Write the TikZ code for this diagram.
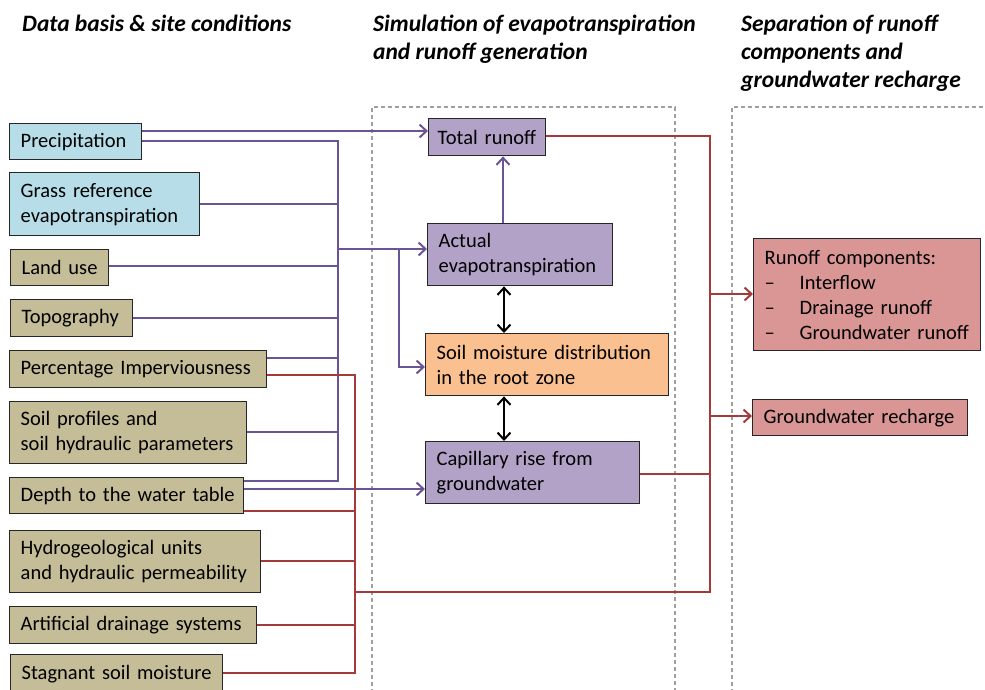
\documentclass[tikz,border=0pt]{standalone}
\usepackage{fontspec}
\setmainfont{Carlito}
\usetikzlibrary{arrows.meta}
\definecolor{cblue}{HTML}{B7DEE8}
\definecolor{ctan}{HTML}{C4BD97}
\definecolor{cpurp}{HTML}{B3A2C7}
\definecolor{corange}{HTML}{FAC090}
\definecolor{cred}{HTML}{D99694}
\definecolor{lpurp}{HTML}{6A5495}
\definecolor{lred}{HTML}{A23B3A}
\definecolor{bord}{HTML}{262626}
\definecolor{dashgray}{HTML}{A0A0A0}
\tikzset{
  bx/.style={draw=bord, line width=1.4pt, anchor=north west, inner xsep=11pt, inner ysep=0pt, align=left,
    execute at begin node={\hyphenpenalty=10000\exhyphenpenalty=10000}},
  ttl/.style={anchor=north west, inner sep=0pt, align=left, font=\fontsize{23.5}{28}\selectfont\bfseries\itshape},
  pl/.style={draw=lpurp, line width=2pt},
  rl/.style={draw=lred, line width=2pt},
  tip/.style={-{Straight Barb[length=7pt,width=13pt]}},
  dtip/.style={{Straight Barb[length=7pt,width=13pt]}-{Straight Barb[length=7pt,width=13pt]}},
  frame/.style={draw=dashgray, line width=1.1pt, dash pattern=on 4pt off 3pt}
}
\begin{document}
\begin{tikzpicture}[x=1pt,y=-1pt,font=\fontsize{20.5}{25}\selectfont]
\useasboundingbox (0,0) rectangle (985,689);
% titles
\node[ttl] (t1) at (22,15) {Data basis \& site conditions};
\node[ttl] (t2) at (373,15) {Simulation of evapotranspiration\\and runoff generation};
\node[ttl] (t3) at (741,15) {Separation of runoff\\components and\\groundwater recharge};
% dashed frames
\draw[frame] (372,700) -- (372,107) -- (675,107) -- (675,700);
\draw[frame] (732,700) -- (732,107) -- (995,107);
% left boxes
\node[bx, fill=cblue, text width=110pt, minimum height=36pt] (prec) at (9,123) {Precipitation};
\node[bx, fill=cblue, text width=168pt, minimum height=63pt] (grass) at (9,172) {Grass reference\\evapotranspiration};
\node[bx, fill=ctan, text width=76pt, minimum height=36pt] (land) at (10,249) {Land use};
\node[bx, fill=ctan, text width=100pt, minimum height=37pt] (topo) at (10,299) {Topography};
\node[bx, fill=ctan, text width=235pt, minimum height=37pt] (perc) at (9,350) {Percentage Imperviousness};
\node[bx, fill=ctan, text width=215pt, minimum height=62pt] (soil) at (9,401) {Soil profiles and\\soil hydraulic parameters};
\node[bx, fill=ctan, text width=212pt, minimum height=36pt] (depth) at (9,477) {\mbox{Depth to the water table}};
\node[bx, fill=ctan, text width=229pt, minimum height=62pt] (hyd) at (9,530) {Hydrogeological units\\and hydraulic permeability};
\node[bx, fill=ctan, text width=225pt, minimum height=37pt] (art) at (9,606) {Artificial drainage systems};
\node[bx, fill=ctan, text width=190pt, minimum height=38pt] (stag) at (10,654) {Stagnant soil moisture};
% center boxes
\node[bx, fill=cpurp, text width=99pt, minimum height=37pt, inner xsep=9pt] (tr) at (428,118) {Total runoff};
\node[bx, fill=cpurp, text width=163pt, minimum height=62pt] (aet) at (427,223) {Actual\\evapotranspiration};
\node[bx, fill=corange, text width=221pt, minimum height=62pt] (sm) at (425,333) {Soil moisture distribution\\in the root zone};
\node[bx, fill=cpurp, text width=192pt, minimum height=62pt] (cap) at (425,441) {Capillary rise from\\groundwater};
% right boxes
\node[bx, fill=cred, text width=205pt, minimum height=112pt] (rc) at (753,238) {Runoff components:\\\makebox[35pt][l]{--}Interflow\\\makebox[35pt][l]{--}Drainage runoff\\\makebox[35pt][l]{--}Groundwater runoff};
\node[bx, fill=cred, text width=193pt, minimum height=36pt] (gr) at (752,399) {Groundwater recharge};
% purple connectors
\coordinate (pbus) at (338,141);
\coordinate (pbusb) at (338,481);
\coordinate (pin) at (399,249);
\draw[pl,tip] (prec.east |- 0,131) -- (tr.west |- 0,131);
\draw[pl] (prec.east |- pbus) -- (pbus) -- (pbusb) -- (depth.east |- pbusb);
\draw[pl] (grass.east |- 0,204) -- (pbus |- 0,204);
\draw[pl] (land.east |- 0,266) -- (pbus |- 0,266);
\draw[pl] (topo.east |- 0,318) -- (pbus |- 0,318);
\draw[pl] (perc.east |- 0,358) -- (pbus |- 0,358);
\draw[pl] (soil.east |- 0,432) -- (pbus |- 0,432);
\draw[pl,tip] (pbus |- pin) -- (aet.west |- pin);
\draw[pl,tip] (pin) -- (pin |- 0,367) -- (sm.west |- 0,367);
\draw[pl,tip] (depth.east |- 0,489) -- (cap.west |- 0,489);
\draw[pl,tip] (aet.north -| 503,0) -- (tr.south -| 503,0);
% black double arrows
\draw[line width=2pt, black, dtip] (aet.south -| 504,0) -- (sm.north -| 504,0);
\draw[line width=2pt, black, dtip] (sm.south -| 504,0) -- (cap.north -| 504,0);
% red connectors
\coordinate (rbus) at (355,375);
\coordinate (rbusb) at (355,673);
\coordinate (rout) at (710,592);
\coordinate (rtop) at (710,136);
\draw[rl] (perc.east |- rbus) -- (rbus) -- (rbusb) -- (stag.east |- rbusb);
\draw[rl] (depth.east |- 0,511) -- (rbus |- 0,511);
\draw[rl] (hyd.east |- 0,561) -- (rbus |- 0,561);
\draw[rl] (art.east |- 0,625) -- (rbus |- 0,625);
\draw[rl] (rbus |- rout) -- (rout) -- (rtop) -- (tr.east |- rtop);
\draw[rl] (cap.east |- 0,474) -- (rtop |- 0,474);
\draw[rl,tip] (rtop |- 0,294) -- (rc.west |- 0,294);
\draw[rl,tip] (rtop |- 0,416) -- (gr.west |- 0,416);
\end{tikzpicture}
\end{document}
